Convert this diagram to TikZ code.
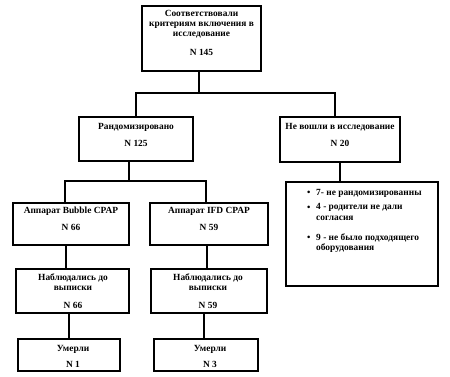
\documentclass[tikz,border=0pt]{standalone}
\usepackage{fontspec}
\setmainfont{Liberation Serif}
\begin{document}
\begin{tikzpicture}[x=1pt,y=-1pt,
  box/.style={draw, line width=1.4pt, inner sep=0pt},
  txt/.style={font=\bfseries\fontsize{9.4}{10.3}\selectfont, align=center, inner sep=0pt},
  conn/.style={line width=1.6pt}]
\useasboundingbox (0,0) rectangle (450,376);
% boxes
\node[box, minimum width=119pt, minimum height=65pt] (top) at (201.5,38.5) {};
\node[box, minimum width=114pt, minimum height=44pt] (rand) at (136,139) {};
\node[box, minimum width=120pt, minimum height=45pt] (excl) at (340,139.5) {};
\node[box, minimum width=152pt, minimum height=104pt] (list) at (362,234) {};
\node[box, minimum width=116pt, minimum height=42pt] (bub) at (71,224) {};
\node[box, minimum width=118pt, minimum height=42pt] (ifd) at (209,224) {};
\node[box, minimum width=113pt, minimum height=44pt] (obs1) at (72.5,291) {};
\node[box, minimum width=116pt, minimum height=44pt] (obs2) at (209,291) {};
\node[box, minimum width=102pt, minimum height=32pt] (died1) at (69,355) {};
\node[box, minimum width=104pt, minimum height=32pt] (died2) at (206,355) {};
% texts
\node[txt] (t1) at (201.5,24) {Соответствовали\\критериям включения в\\исследование};
\node[txt] (t1n) at (201.5,52) {N 145};
\node[txt] (t2) at (136,127) {Рандомизировано};
\node[txt] (t2n) at (136,143) {N 125};
\node[txt] (t3) at (340,127) {Не вошли в исследование};
\node[txt] (t3n) at (340,143) {N 20};
\node[txt] (t4) at (71,211) {Аппарат Bubble CPAP};
\node[txt] (t4n) at (71,227) {N 66};
\node[txt] (t5) at (209,211) {Аппарат IFD CPAP};
\node[txt] (t5n) at (209,227) {N 59};
\node[txt] (t6) at (73,282.5) {Наблюдались до\\выписки};
\node[txt] (t6n) at (73,305) {N 66};
\node[txt] (t7) at (208,282.5) {Наблюдались до\\выписки};
\node[txt] (t7n) at (208,305) {N 59};
\node[txt] (t8) at (73,349) {Умерли};
\node[txt] (t8n) at (73,364) {N 1};
\node[txt] (t9) at (210,349) {Умерли};
\node[txt] (t9n) at (210,364) {N 3};
% list
\node[txt, anchor=west] (b1) at (307,193) {•};
\node[txt, anchor=west, align=left] (l1) at (316,193) {7- не рандомизированны};
\node[txt, anchor=west] (b2) at (307,208) {•};
\node[txt, anchor=north west, align=left] (l2) at (316,203.5) {4 - родители не дали\\согласия};
\node[txt, anchor=west] (b3) at (307,238) {•};
\node[txt, anchor=north west, align=left] (l3) at (316,233.5) {9 - не было подходящего\\оборудования};
% connectors
\coordinate (j1) at (199,93);
\coordinate (ts) at ([xshift=-2.5pt]top.south);
\coordinate (en) at ([xshift=-5pt]excl.north);
\draw[conn] (ts) -- (j1);
\draw[conn] (rand.north) |- (j1) -| (en);
\draw[conn] (excl.south) -- (excl.south |- list.north);
\coordinate (j2) at (129,181);
\coordinate (rs) at ([xshift=-7pt]rand.south);
\coordinate (bn) at ([xshift=-6pt]bub.north);
\coordinate (in) at ([xshift=-3pt]ifd.north);
\draw[conn] (rs) -- (j2);
\draw[conn] (bn) |- (j2) -| (in);
\coordinate (bs) at ([xshift=-5pt]bub.south);
\coordinate (is) at ([xshift=-2pt]ifd.south);
\coordinate (o1s) at ([xshift=-3.5pt]obs1.south);
\coordinate (o2s) at ([xshift=-5pt]obs2.south);
\draw[conn] (bs) -- (bs |- obs1.north);
\draw[conn] (is) -- (is |- obs2.north);
\draw[conn] (o1s) -- (o1s |- died1.north);
\draw[conn] (o2s) -- (o2s |- died2.north);
\end{tikzpicture}
\end{document}
